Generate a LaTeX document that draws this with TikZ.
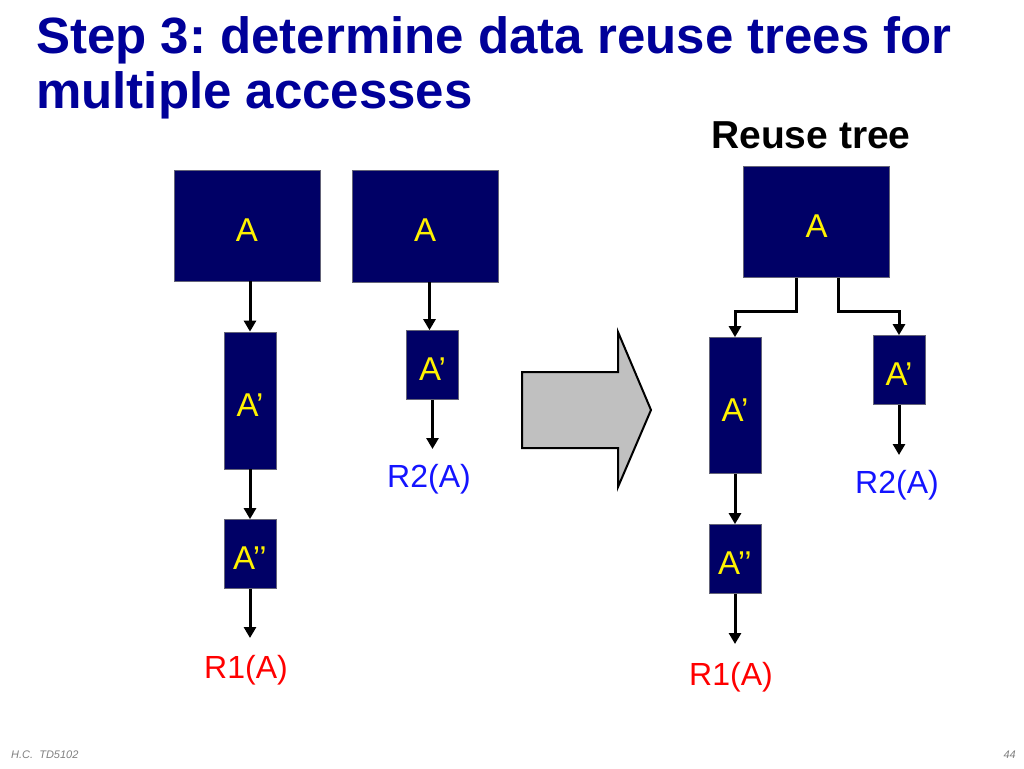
\documentclass[tikz,border=0pt]{standalone}
\usepackage{fontspec}
\setmainfont{Liberation Sans}
\usetikzlibrary{arrows.meta}
\definecolor{navy}{RGB}{0,0,102}
\definecolor{titleblue}{RGB}{0,0,153}
\definecolor{boxedge}{RGB}{100,100,120}
\definecolor{lblue}{RGB}{20,20,255}
\definecolor{arrowgray}{RGB}{192,192,192}
\frenchspacing
\begin{document}
\begin{tikzpicture}[x=1pt,y=-1pt,
  box/.style={rectangle, fill=navy, draw=boxedge, line width=0.7pt, inner sep=0pt,
    text=yellow, font=\fontsize{33}{33}\selectfont, text height=31pt, text depth=0pt},
  conn/.style={line width=3pt, -{Triangle[length=11pt,width=12pt]}},
  res/.style={font=\fontsize{32}{32}\selectfont, anchor=base, inner sep=0pt},
  ttl/.style={anchor=base west, inner sep=0pt, text=titleblue, font=\fontsize{51}{54}\selectfont\bfseries},
  foot/.style={inner sep=0pt, text=gray, font=\fontsize{11}{11}\selectfont\itshape}
]
\useasboundingbox (0,0) rectangle (1024,768);

% title
\node[ttl] (title1) at (36,54) {Step 3: determine data reuse trees for};
\node[ttl] (title2) at (36,108) {multiple accesses};
\node[anchor=base west, inner sep=0pt, font=\fontsize{39}{39}\selectfont\bfseries] (rt) at (711,148) {Reuse tree};

% left column
\node[box, minimum width=146pt, minimum height=111pt] (a1) at (247,225.5) {A};
\node[box, minimum width=52pt, minimum height=137pt] (a1p) at (250,400.5) {A’};
\node[box, minimum width=52pt, minimum height=69pt] (a1pp) at (250,554) {A’’};
\coordinate (r1top) at (250,638);
\node[res, text=red] (r1) at (246,678) {R1(A)};
\draw[conn] (a1p.north |- a1.south) -- (a1p.north);
\draw[conn] (a1p.south) -- (a1pp.north);
\draw[conn] (a1pp.south) -- (r1top);

% second column
\node[box, minimum width=146pt, minimum height=112pt] (a2) at (425,226) {A};
\node[box, minimum width=52pt, minimum height=69pt] (a2p) at (432.5,365) {A’};
\coordinate (r2top) at (432.5,449);
\node[res, text=lblue] (r2) at (429,487) {R2(A)};
\draw[conn] ([xshift=-3pt]a2p.north |- a2.south) -- ([xshift=-3pt]a2p.north);
\draw[conn] (a2p.south) -- (r2top);

% big arrow
\draw[fill=arrowgray, line width=2pt, line join=miter] (522,372) -- (618,372) -- (618,332) -- (651,410) -- (618,487) -- (618,448) -- (522,448) -- cycle;

% reuse tree
\node[box, minimum width=146pt, minimum height=111pt] (t) at (816.5,222) {A};
\node[box, minimum width=52pt, minimum height=136pt] (tl) at (735,405.5) {A’};
\node[box, minimum width=52pt, minimum height=69pt] (tr) at (899,370) {A’};
\node[box, minimum width=52pt, minimum height=69pt] (tll) at (735,559) {A’’};
\draw[conn] ([xshift=-20pt]t.south) -- ++(0,34) -| (tl.north);
\draw[conn] ([xshift=22pt]t.south) -- ++(0,34) -| (tr.north);
\draw[conn] (tl.south) -- (tll.north);
\coordinate (rr1top) at (735,644);
\draw[conn] (tll.south) -- (rr1top);
\node[res, text=red] (rr1) at (731,685) {R1(A)};
\coordinate (rr2top) at (899,455);
\draw[conn] (tr.south) -- (rr2top);
\node[res, text=lblue] (rr2) at (897,493) {R2(A)};

% footer
\node[foot, anchor=base west] (fl) at (11,758) {H.C.~~TD5102};
\node[foot, anchor=base east] (fr) at (1016,758) {44};
\end{tikzpicture}
\end{document}
